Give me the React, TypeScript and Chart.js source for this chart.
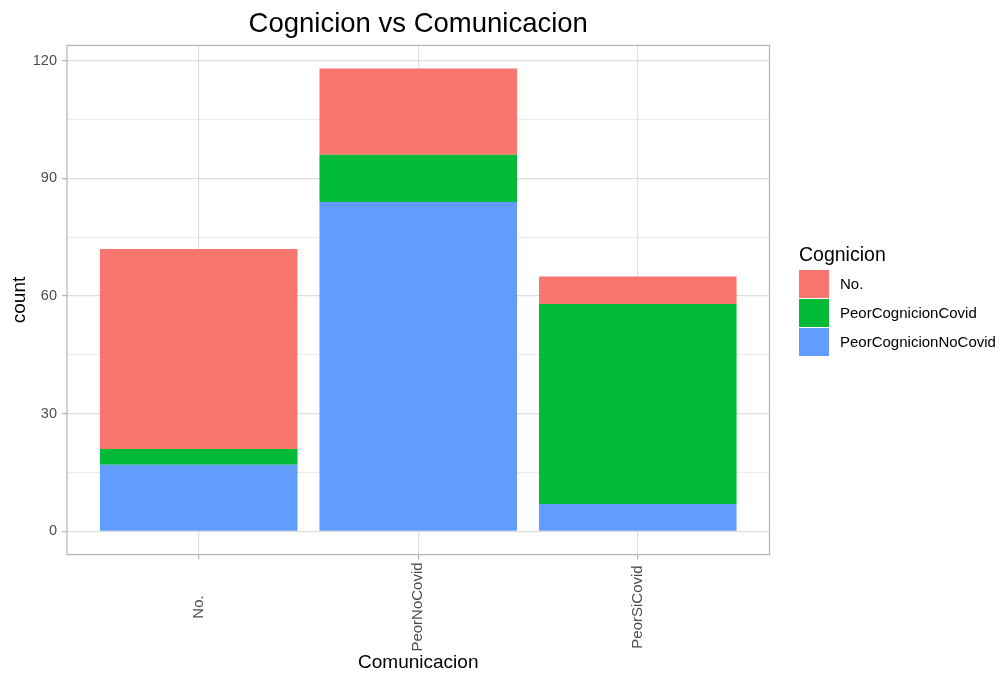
import React, { useEffect, useRef } from "react";
import { Chart, registerables } from "chart.js";

Chart.register(...registerables);

const categories = ["No.", "PeorNoCovid", "PeorSiCovid"];
const seriesNames = ["No.", "PeorCognicionCovid", "PeorCognicionNoCovid"];
const seriesColors = ["#F8766D", "#00BA38", "#619CFF"];
const valuesNo = [51, 22, 7];
const valuesCovid = [4, 12, 51];
const valuesNoCovid = [17, 84, 7];
const yMajorTicks = [0, 30, 60, 90, 120];
const yMinorTicks = [15, 45, 75, 105];

const titleText = "Cognicion vs Comunicacion";
const xTitle = "Comunicacion";
const yTitle = "count";
const legendTitle = "Cognicion";

const FONT = "'Liberation Sans', Arial, sans-serif";
const W = 1003;
const H = 673;

export default function App() {
  const ref = useRef<HTMLCanvasElement | null>(null);

  useEffect(() => {
    const canvas = ref.current;
    if (!canvas) return;
    const totals = categories.map((_, i) => valuesNo[i] + valuesCovid[i] + valuesNoCovid[i]);
    const maxTotal = Math.max(...totals);
    const pad = maxTotal * 0.05;
    const yMin = -pad;
    const yMax = maxTotal + pad;

    const toPoints = (arr: number[]) => arr.map((v, i) => ({ x: i + 1, y: v }));

    const datasets = [
      { label: seriesNames[2], data: toPoints(valuesNoCovid), backgroundColor: seriesColors[2] },
      { label: seriesNames[1], data: toPoints(valuesCovid), backgroundColor: seriesColors[1] },
      { label: seriesNames[0], data: toPoints(valuesNo), backgroundColor: seriesColors[0] },
    ].map((d) => ({ ...d, borderWidth: 0, barPercentage: 0.9, categoryPercentage: 1.0 }));

    const overlay = {
      id: "overlay",
      beforeDraw(chart: any) {
        const c = chart.ctx;
        c.save();
        c.fillStyle = "#ffffff";
        c.fillRect(0, 0, chart.width, chart.height);
        c.restore();
      },
      afterDraw(chart: any) {
        const c = chart.ctx as CanvasRenderingContext2D;
        const area = chart.chartArea;
        const xs = chart.scales.x;
        c.save();
        // panel border
        c.strokeStyle = "#B3B3B3";
        c.lineWidth = 1.2;
        c.strokeRect(area.left, area.top, area.right - area.left, area.bottom - area.top);

        // title
        const cx = (area.left + area.right) / 2;
        c.fillStyle = "#000000";
        c.font = `27.5px ${FONT}`;
        c.textAlign = "center";
        c.textBaseline = "alphabetic";
        c.fillText(titleText, cx, 32);

        // x axis title
        c.font = `19px ${FONT}`;
        c.fillText(xTitle, cx, 668);

        // y axis title
        c.save();
        c.translate(25, (area.top + area.bottom) / 2);
        c.rotate(-Math.PI / 2);
        c.textAlign = "center";
        c.textBaseline = "alphabetic";
        c.fillText(yTitle, 0, 0);
        c.restore();

        // x tick labels, rotated, centered
        c.font = `15px ${FONT}`;
        c.fillStyle = "#4D4D4D";
        categories.forEach((label, i) => {
          const px = xs.getPixelForValue(i + 1);
          c.save();
          c.translate(px, 607);
          c.rotate(-Math.PI / 2);
          c.textAlign = "center";
          c.textBaseline = "middle";
          c.fillText(label, 0, 0);
          c.restore();
        });

        // legend
        c.fillStyle = "#000000";
        c.font = `19.5px ${FONT}`;
        c.textAlign = "left";
        c.textBaseline = "alphabetic";
        c.fillText(legendTitle, 799, 261);
        const keyX = 799;
        const keyW = 30;
        const keyH = 28;
        const keyY0 = 270;
        c.font = `15px ${FONT}`;
        c.textBaseline = "middle";
        seriesNames.forEach((name, i) => {
          const y = keyY0 + i * (keyH + 1);
          c.fillStyle = seriesColors[i];
          c.fillRect(keyX, y, keyW, keyH);
          c.fillStyle = "#000000";
          c.fillText(name, 840, y + keyH / 2 + 1);
        });
        c.restore();
      },
    };

    const chart = new Chart(canvas, {
      type: "bar",
      data: { datasets },
      options: {
        responsive: false,
        animation: false,
        events: [],
        layout: { padding: { left: 0, top: 45.4, right: W - 769.5, bottom: 0 } },
        plugins: {
          legend: { display: false },
          title: { display: false },
          tooltip: { enabled: false },
        },
        scales: {
          x: {
            type: "linear",
            min: 0.4,
            max: 3.6,
            offset: false,
            stacked: true,
            afterBuildTicks: (s: any) => {
              s.ticks = categories.map((_, i) => ({ value: i + 1 }));
            },
            afterFit: (s: any) => {
              s.height = H - 554.6;
            },
            ticks: { display: false },
            grid: {
              offset: false,
              color: "#DEDEDE",
              lineWidth: 1.2,
              drawTicks: true,
              tickLength: 5,
              tickColor: "#B3B3B3",
              tickWidth: 1.2,
            },
            border: { display: false },
          },
          y: {
            type: "linear",
            min: yMin,
            max: yMax,
            stacked: true,
            afterBuildTicks: (s: any) => {
              s.ticks = [...yMajorTicks, ...yMinorTicks]
                .sort((a, b) => a - b)
                .map((v) => ({ value: v }));
            },
            afterFit: (s: any) => {
              s.width = 67;
            },
            ticks: {
              autoSkip: false,
              padding: 5,
              color: "#4D4D4D",
              font: { family: FONT, size: 14.5 },
              callback: (v: any) => (yMajorTicks.includes(Number(v)) ? String(v) : ""),
            },
            grid: {
              color: "#DEDEDE",
              lineWidth: (ctx: any) => (ctx.tick && yMajorTicks.includes(ctx.tick.value) ? 1.2 : 0.6),
              drawTicks: true,
              tickLength: 5,
              tickColor: (ctx: any) =>
                ctx.tick && yMajorTicks.includes(ctx.tick.value) ? "#B3B3B3" : "rgba(0,0,0,0)",
              tickWidth: 1.2,
            },
            border: { display: false },
          },
        },
      } as any,
      plugins: [overlay],
    });

    return () => {
      chart.destroy();
    };
  }, []);

  return (
    <canvas
      ref={ref}
      width={W}
      height={H}
      style={{ position: "absolute", left: 0, top: 0, width: W, height: H, display: "block" }}
    />
  );
}
